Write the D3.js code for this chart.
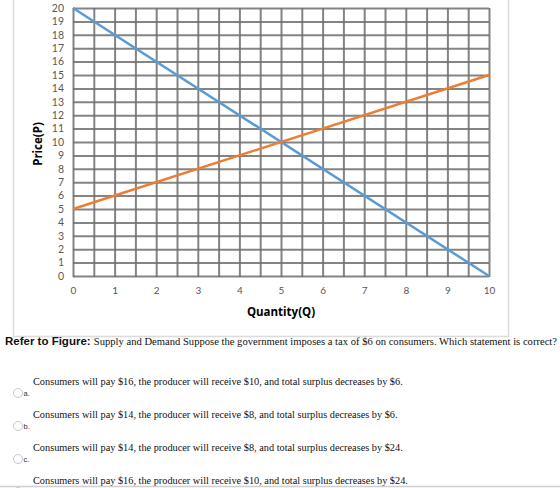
<!DOCTYPE html>
<html lang="en">
<head>
<meta charset="utf-8">
<style>
  body { margin: 0; background: #fff; }
  svg { display: block; }
  .tick text { font-family: Lato, sans-serif; fill: #595959; }
  .grid .tick line { stroke: #6e6e6e; stroke-width: 2; stroke-opacity: .85; }
  .grid .domain { display: none; }
  .axis .domain { display: none; }
  .q { font-family: 'Liberation Serif', 'Times New Roman', serif; font-size: 10.3px; fill: #111; }
  .lab { font-family: 'Liberation Sans', Arial, sans-serif; font-size: 7.5px; fill: #333; }
</style>
</head>
<body>
<svg width="560" height="488"></svg>
<script src="https://cdn.jsdelivr.net/npm/d3@7"></script>
<script>
// chart values
var quantity = [0, 10];
var demand = [20, 0];
var supply = [5, 15];
var xTicks = d3.range(0, 11);
var yTicks = d3.range(0, 21);
var xGrid = d3.range(0, 10.5, 0.5);

var question = "Supply and Demand Suppose the government imposes a tax of $6 on consumers. Which statement is correct?";
var letters = ["a.", "b.", "c.", ""];
var answers = [
  "Consumers will pay $16, the producer will receive $10, and total surplus decreases by $6.",
  "Consumers will pay $14, the producer will receive $8, and total surplus decreases by $6.",
  "Consumers will pay $14, the producer will receive $8, and total surplus decreases by $24.",
  "Consumers will pay $16, the producer will receive $10, and total surplus decreases by $24."
];

var svg = d3.select("svg");

var x = d3.scaleLinear().domain([0, 10]).range([73, 489]);
var y = d3.scaleLinear().domain([0, 20]).range([276, 8]);

// outer frame of the figure
svg.append("path")
    .attr("d", "M13.5,0 V336.5 H508.5 V0")
    .attr("fill", "none")
    .attr("stroke", "#dcdcdc")
    .attr("stroke-width", 1.5);

// horizontal grid
svg.append("g")
    .attr("class", "grid")
    .attr("transform", "translate(" + x(0) + ",0)")
    .call(d3.axisLeft(y).tickValues(yTicks).tickSize(-(x(10) - x(0))).tickFormat(""))
  .selectAll(".tick line")
    .attr("stroke-opacity", d => d === 0 ? 0.35 : 0.75);

// vertical grid
svg.append("g")
    .attr("class", "grid")
    .attr("transform", "translate(0," + (y(0) + 1) + ")")
    .call(d3.axisBottom(x).tickValues(xGrid).tickSize(-(y(0) - y(20) + 1)).tickFormat(""))
  .selectAll(".tick line")
    .attr("stroke-opacity", d => d === 0 ? 0.35 : 0.9);

// tick labels
svg.append("g")
    .attr("class", "axis")
    .attr("transform", "translate(64,0)")
    .call(d3.axisLeft(y).tickValues(yTicks).tickSize(0).tickPadding(0))
  .selectAll("text")
    .style("font-size", "10.5px");

svg.append("g")
    .attr("class", "axis")
    .attr("transform", "translate(0,287)")
    .call(d3.axisBottom(x).tickValues(xTicks).tickSize(0).tickPadding(0))
  .selectAll("text")
    .style("font-size", "10px");

// axis titles
svg.append("text")
    .attr("transform", "translate(42,144) rotate(-90)")
    .attr("text-anchor", "middle")
    .style("font-family", "'Open Sans', sans-serif")
    .style("font-weight", "bold")
    .style("font-size", "11.5px")
    .text("Price(P)");

svg.append("text")
    .attr("x", 281)
    .attr("y", 316)
    .attr("text-anchor", "middle")
    .style("font-family", "'Open Sans', sans-serif")
    .style("font-weight", "bold")
    .style("font-size", "11.5px")
    .text("Quantity(Q)");

// curves
var line = d3.line().x(d => x(d[0])).y(d => y(d[1]));
svg.append("path")
    .datum(d3.zip(quantity, demand))
    .attr("d", line)
    .attr("fill", "none")
    .attr("stroke", "#5b9bd5")
    .attr("stroke-width", 2.5);
svg.append("path")
    .datum(d3.zip(quantity, supply))
    .attr("d", line)
    .attr("fill", "none")
    .attr("stroke", "#ed7d31")
    .attr("stroke-width", 2.5);

// question text
var qt = svg.append("text").attr("x", 5).attr("y", 345);
qt.append("tspan")
    .style("font-family", "'Liberation Sans', Arial, sans-serif")
    .style("font-weight", "bold")
    .style("font-size", "11.5px")
    .attr("fill", "#111")
    .text("Refer to Figure: ");
qt.append("tspan")
    .attr("class", "q")
    .style("font-size", "10.6px")
    .text(question);

// answer options
var rowY = d3.scalePoint().domain(d3.range(answers.length)).range([385, 484]);
var opt = svg.selectAll("g.opt")
  .data(answers)
  .join("g")
    .attr("class", "opt")
    .attr("transform", (d, i) => "translate(0," + rowY(i) + ")");
opt.append("circle")
    .attr("cx", 18)
    .attr("cy", 8)
    .attr("r", 4.5)
    .attr("fill", "#fff")
    .attr("stroke", "#c8c8c8");
opt.append("text")
    .attr("class", "lab")
    .attr("x", 23.5)
    .attr("y", 11)
    .text((d, i) => letters[i]);
opt.append("text")
    .attr("class", "q")
    .attr("x", 33)
    .attr("y", 0)
    .text(d => d);

// bottom divider
svg.append("line")
    .attr("x1", 0).attr("x2", 560)
    .attr("y1", 486.5).attr("y2", 486.5)
    .attr("stroke", "#cfcfcf")
    .attr("stroke-width", 1.5);
</script>
</body>
</html>
